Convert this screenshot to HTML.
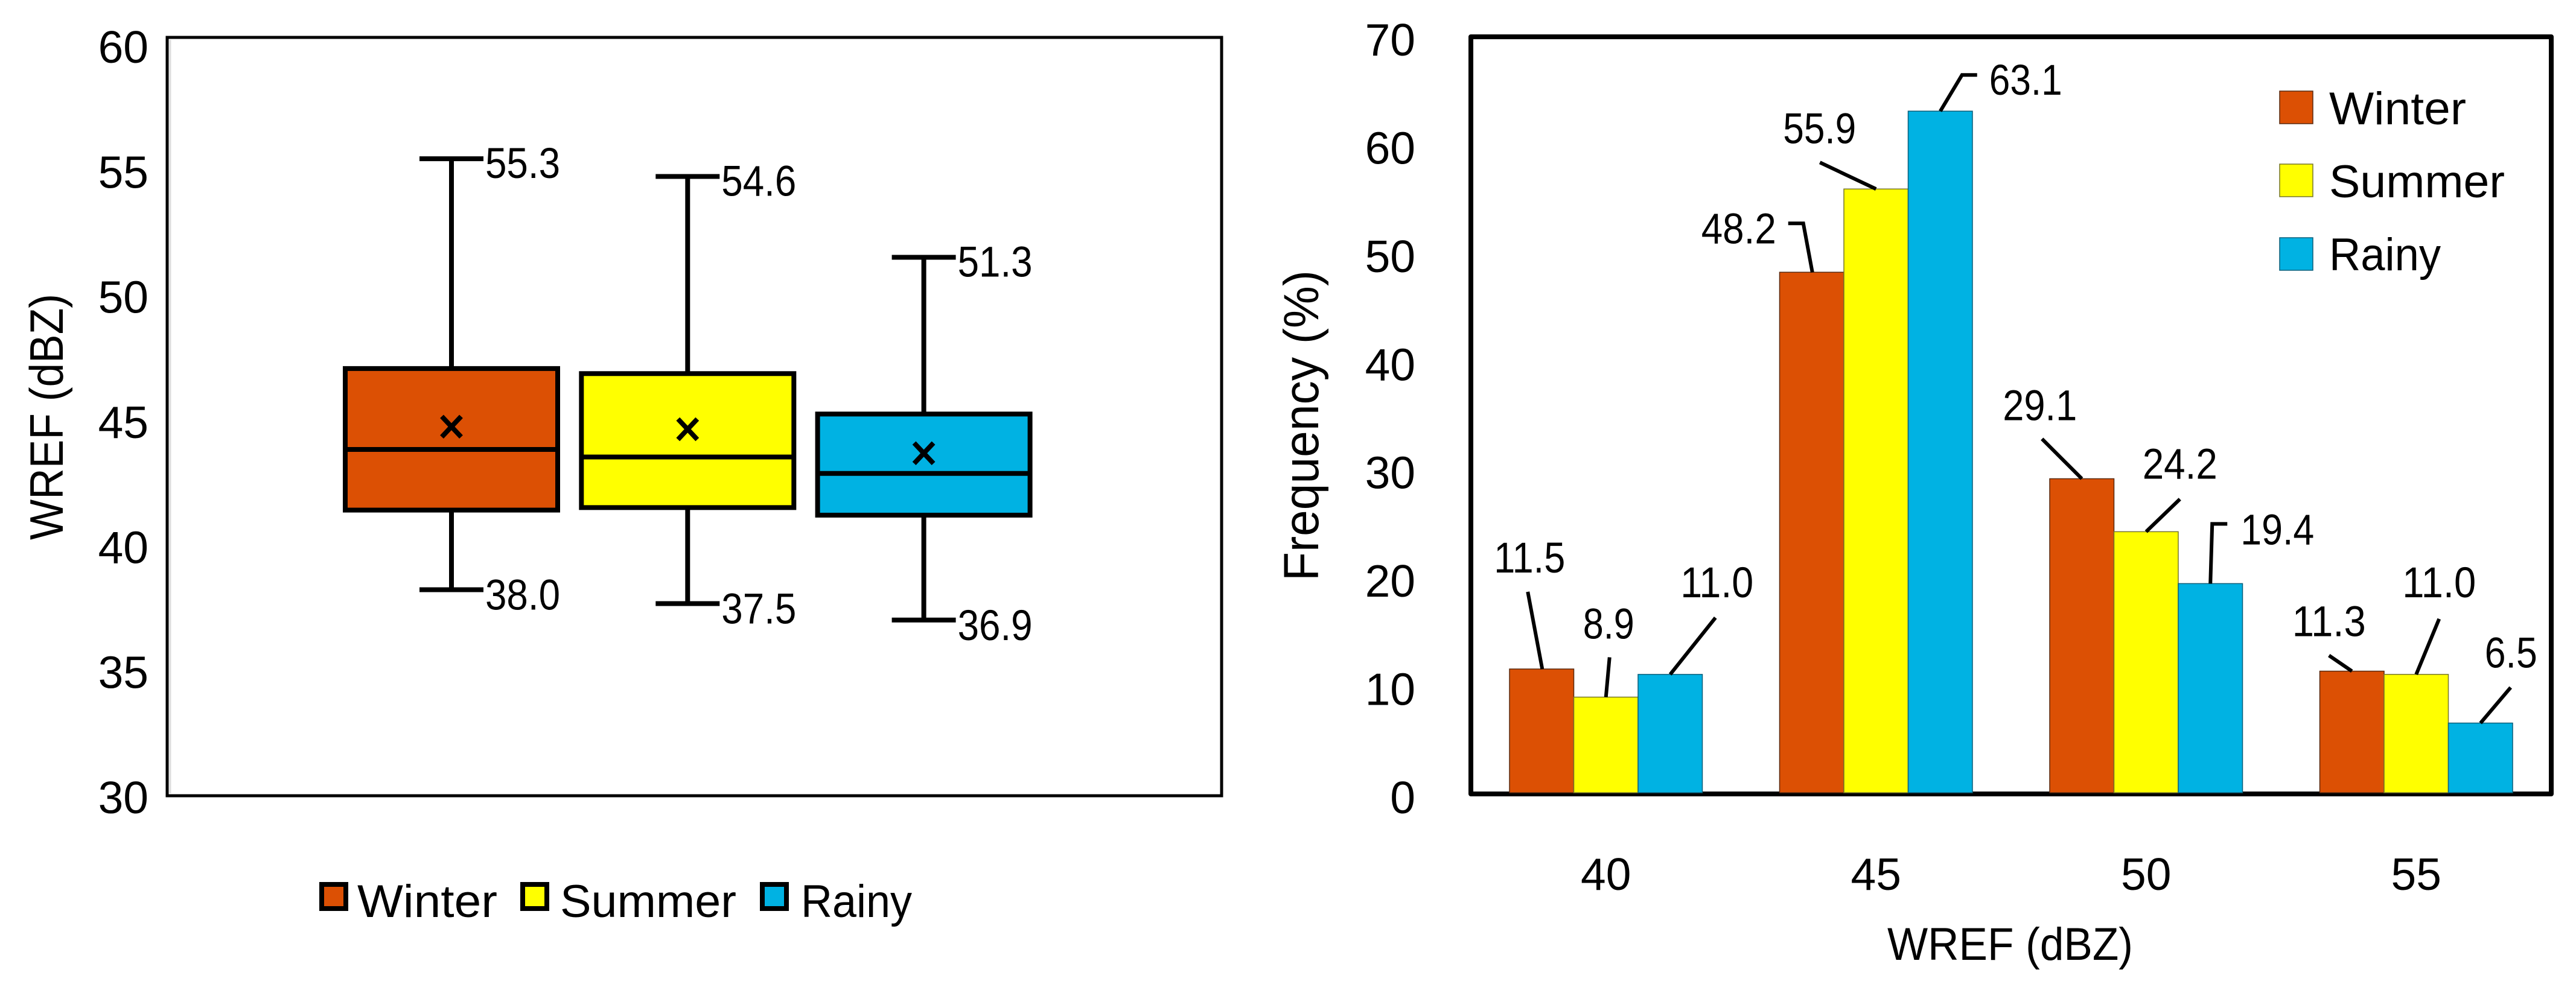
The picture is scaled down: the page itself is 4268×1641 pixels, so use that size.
<!DOCTYPE html>
<html lang="en">
<head>
<meta charset="utf-8">
<title>WREF box plot and frequency chart</title>
<style>
html,body{margin:0;padding:0;background:#fff;width:4268px;height:1641px;overflow:hidden}
svg{display:block}
text{font-family:"Liberation Sans",sans-serif;fill:#000}
</style>
</head>
<body>
<svg id="figure" xmlns="http://www.w3.org/2000/svg" width="4268" height="1641" viewBox="0 0 4268 1641">
  <rect x="0" y="0" width="4268" height="1641" fill="#fff"/>
  <g id="left-chart">
    <rect x="277" y="62" width="1747" height="1257" fill="#fff" stroke="#000" stroke-width="5"/>
    <line x1="282" y1="66" x2="282" y2="1315" stroke="#ddd" stroke-width="3"/>
    <text transform="translate(104,895) rotate(-90)" font-size="78" textLength="408" lengthAdjust="spacingAndGlyphs">WREF (dBZ)</text>
  </g>
  <g id="right-chart">
    <rect x="2437" y="61" width="1790" height="1255" fill="#fff" stroke="#000" stroke-width="8" stroke-linejoin="round"/>
    <text transform="translate(2184,963) rotate(-90)" font-size="82" textLength="515" lengthAdjust="spacingAndGlyphs">Frequency (%)</text>
    <text x="3127" y="1591" font-size="76" textLength="407" lengthAdjust="spacingAndGlyphs">WREF (dBZ)</text>
  </g>
  <g id="left-legend">
    <rect x="533" y="1466" width="40" height="40" fill="#DC5004" stroke="#000" stroke-width="8"/>
    <text x="592" y="1520" font-size="76" textLength="232" lengthAdjust="spacingAndGlyphs">Winter</text>
    <rect x="866" y="1466" width="40" height="40" fill="#FFFF00" stroke="#000" stroke-width="8"/>
    <text x="928" y="1520" font-size="76" textLength="292" lengthAdjust="spacingAndGlyphs">Summer</text>
    <rect x="1263" y="1466" width="40" height="40" fill="#00B2E3" stroke="#000" stroke-width="8"/>
    <text x="1327" y="1520" font-size="76" textLength="184" lengthAdjust="spacingAndGlyphs">Rainy</text>
  </g>
  <g id="right-legend">
    <rect x="3777" y="151" width="55" height="54" fill="#DC5004" stroke="#5a2a10" stroke-width="1.5"/>
    <text x="3859" y="206" font-size="76" textLength="227" lengthAdjust="spacingAndGlyphs">Winter</text>
    <rect x="3777" y="272" width="55" height="54" fill="#FFFF00" stroke="#77772a" stroke-width="1.5"/>
    <text x="3859" y="327" font-size="76" textLength="291" lengthAdjust="spacingAndGlyphs">Summer</text>
    <rect x="3777" y="394" width="55" height="54" fill="#00B2E3" stroke="#0b5f7a" stroke-width="1.5"/>
    <text x="3859" y="448" font-size="76" textLength="185" lengthAdjust="spacingAndGlyphs">Rainy</text>
  </g>
</svg>
<script>
// ---------- box plot data ----------
const seasons = ['Winter', 'Summer', 'Rainy'];
const whiskerHigh = [55.2, 54.5, 51.3];
const whiskerLow = [38.15, 37.6, 36.95];
const quartile3 = [46.9, 46.7, 45.1];
const quartile1 = [41.3, 41.4, 41.1];
const medians = [43.7, 43.4, 42.75];
const means = [44.6, 44.5, 43.55];
const whiskerHighLabels = ['55.3', '54.6', '51.3'];
const whiskerLowLabels = ['38.0', '37.5', '36.9'];
const boxTickLabels = [30, 35, 40, 45, 50, 55, 60];

// ---------- bar chart data ----------
const wrefBins = ['40', '45', '50', '55'];
const winterFreq = [11.5, 48.2, 29.1, 11.3];
const summerFreq = [8.9, 55.9, 24.2, 11.0];
const rainyFreq = [11.0, 63.1, 19.4, 6.5];
const freqTickLabels = [0, 10, 20, 30, 40, 50, 60, 70];

const NS = 'http://www.w3.org/2000/svg';
const seasonFill = { Winter: '#DC5004', Summer: '#FFFF00', Rainy: '#00B2E3' };
const seasonEdge = { Winter: '#5a2a10', Summer: '#77772a', Rainy: '#0b5f7a' };

function make(tag, attrs, parent) {
  const el = document.createElementNS(NS, tag);
  for (const k in attrs) el.setAttribute(k, attrs[k]);
  parent.appendChild(el);
  return el;
}

// ---------- axis functions ----------
const boxY = v => 1319 - (v - 30) * (1257 / 30);
const boxLabelY = v => 1348 - (v - 30) * (1244 / 30);
const boxX = i => 748 + 391.3 * i;

const freqY = v => 1315 - v * 17.92;
const freqLabelY = v => 1348 - v * (1256 / 70);
const binStep = 1790 / 4;
const binX = i => 2437 + binStep * (i + 0.5);
const barWidth = 106.5;
const barX = (i, s) => binX(i) - 1.5 * barWidth + s * barWidth;

// ---------- box plot ----------
function drawBoxPlot() {
  const g = document.getElementById('left-chart');
  boxTickLabels.forEach(v => {
    const t = make('text', { x: 246, y: boxLabelY(v), 'font-size': 75, 'text-anchor': 'end' }, g);
    
    
    t.textContent = v;
  });
  seasons.forEach((season, i) => {
    const cx = boxX(i);

    const stem = make('line', { x1: cx, x2: cx, y1: boxY(whiskerHigh[i]), y2: boxY(whiskerLow[i]), stroke: '#000', 'stroke-width': 8 }, g);
    
    

    const capHigh = make('line', { x1: cx - 53, x2: cx + 53, y1: boxY(whiskerHigh[i]), y2: boxY(whiskerHigh[i]), stroke: '#000', 'stroke-width': 8 }, g);
    
    

    const capLow = make('line', { x1: cx - 53, x2: cx + 53, y1: boxY(whiskerLow[i]), y2: boxY(whiskerLow[i]), stroke: '#000', 'stroke-width': 8 }, g);
    
    

    const box = make('rect', { x: cx - 176, width: 352, y: boxY(quartile3[i]), height: boxY(quartile1[i]) - boxY(quartile3[i]), fill: seasonFill[season], stroke: '#000', 'stroke-width': 8 }, g);
    
    

    const med = make('line', { x1: cx - 176, x2: cx + 176, y1: boxY(medians[i]), y2: boxY(medians[i]), stroke: '#000', 'stroke-width': 8 }, g);
    
    

    const my = boxY(means[i]);
    const mean = make('path', { d: `M${cx - 16} ${my - 17}L${cx + 16} ${my + 17}M${cx + 16} ${my - 17}L${cx - 16} ${my + 17}`, stroke: '#000', 'stroke-width': 8, fill: 'none' }, g);
    
    

    const hi = make('text', { x: cx + 56, y: boxY(whiskerHigh[i]) + 32, 'font-size': 71, textLength: 124, lengthAdjust: 'spacingAndGlyphs' }, g);
    
    
    hi.textContent = whiskerHighLabels[i];

    const lo = make('text', { x: cx + 56, y: boxY(whiskerLow[i]) + 33, 'font-size': 71, textLength: 124, lengthAdjust: 'spacingAndGlyphs' }, g);
    
    
    lo.textContent = whiskerLowLabels[i];
  });
}

// ---------- bar chart ----------
function drawBarChart() {
  const g = document.getElementById('right-chart');
  const series = [winterFreq, summerFreq, rainyFreq];

  // Hand-placed callouts, expressed relative to each bar's top-centre.
  // leader: points [dx, dy] from the bar top; label: [left dx, baseline dy, width]
  const layout = {
    '0-0': { leader: [[-23, -128], [1, 0]], label: [-79, -160, 118] },
    '0-1': { leader: [[6, -66], [0, 0]], label: [-38, -97, 85] },
    '0-2': { leader: [[75, -94], [0, 0]], label: [17, -128, 121] },
    '1-0': { leader: [[-39, -81], [-14, -81], [1, 0]], label: [-183, -48, 124] },
    '1-1': { leader: [[-93, -44], [0, 0]], label: [-154, -76, 121] },
    '1-2': { leader: [[61, -60], [36, -60], [0, 0]], label: [81, -27, 121] },
    '2-0': { leader: [[-66, -66], [0, 0]], label: [-131, -97, 123] },
    '2-1': { leader: [[56, -54], [0, 0]], label: [-6, -88, 124] },
    '2-2': { leader: [[28, -99], [3, -99], [0, 0]], label: [50, -65, 122] },
    '3-0': { leader: [[-38, -26], [0, 0]], label: [-99, -58, 122] },
    '3-1': { leader: [[38, -92], [0, 0]], label: [-23, -128, 122] },
    '3-2': { leader: [[50, -59], [0, 0]], label: [7, -92, 87] }
  };

  freqTickLabels.forEach(v => {
    const t = make('text', { x: 2345, y: freqLabelY(v), 'font-size': 75, 'text-anchor': 'end' }, g);
    
    
    t.textContent = v;
  });

  wrefBins.forEach((bin, i) => {
    const t = make('text', { x: binX(i), y: 1475, 'font-size': 75, 'text-anchor': 'middle' }, g);
    
    
    t.textContent = bin;
  });

  series.forEach((values, s) => {
    values.forEach((v, i) => {
      const bar = make('rect', { x: barX(i, s), y: freqY(v), width: barWidth, height: 1314 - freqY(v), fill: seasonFill[seasons[s]], stroke: seasonEdge[seasons[s]], 'stroke-width': 1.5 }, g);
      
      
    });
  });

  series.forEach((values, s) => {
    values.forEach((v, i) => {
      const c = layout[i + '-' + s];
      const tx = barX(i, s) + barWidth / 2;
      const ty = freqY(v);
      const pts = c.leader.map(p => (tx + p[0]) + ',' + (ty + p[1])).join(' ');
      const leader = make('polyline', { points: pts, fill: 'none', stroke: '#000', 'stroke-width': 6 }, g);
      
      

      const t = make('text', { x: tx + c.label[0], y: ty + c.label[1], 'font-size': 71, textLength: c.label[2], lengthAdjust: 'spacingAndGlyphs' }, g);
      
      
      t.textContent = v.toFixed(1);
    });
  });
}

drawBoxPlot();
drawBarChart();
</script>
</body>
</html>
